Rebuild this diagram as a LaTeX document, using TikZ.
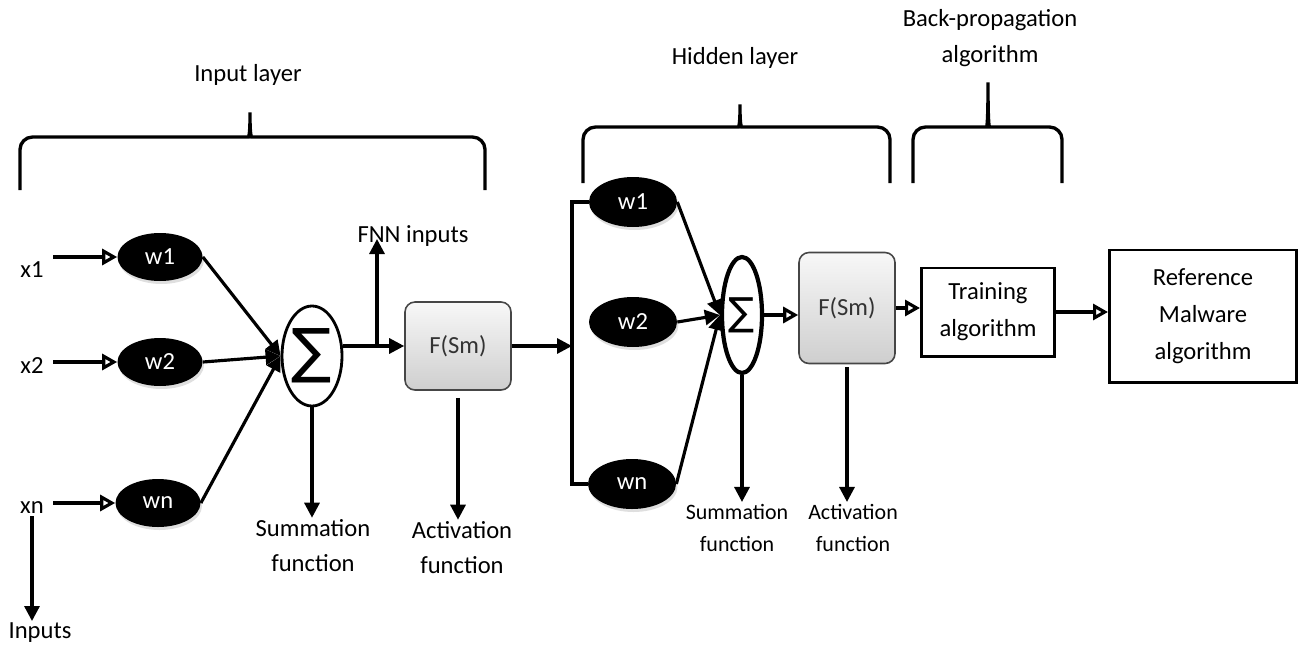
\documentclass[tikz,border=0pt]{standalone}
\usepackage{fontspec}
\setmainfont{Carlito}
\newfontfamily\symfont{DejaVu Sans}
\usetikzlibrary{arrows.meta,positioning,shapes.geometric,shadows}

\begin{document}
\begin{tikzpicture}[x=0.2mm, y=-0.2mm,
    weight/.style={ellipse, fill=black, text=white, minimum width=17mm, minimum height=9.6mm, font=\fontsize{14}{16}\selectfont, drop shadow={opacity=0.25, shadow xshift=0.3mm, shadow yshift=-0.6mm}},
    summer/.style={ellipse, draw, line width=1.6pt, fill=white, inner sep=0pt, minimum width=12mm, minimum height=20mm, font=\symfont\fontsize{34}{34}\selectfont},
    actbox/.style={draw=gray!55!black, line width=0.9pt, rounded corners=2mm, top color=gray!6, bottom color=gray!38, text=black!80, minimum width=21.2mm, minimum height=17.6mm, font=\fontsize{14}{16}\selectfont},
    algbox/.style={draw, line width=1.7pt, align=center, font=\fontsize{14}{21}\selectfont},
    label/.style={align=center, inner sep=1pt, font=\fontsize{14}{20}\selectfont},
    small/.style={align=center, inner sep=1pt, font=\fontsize{12.5}{18.5}\selectfont},
    wire/.style={line width=1.8pt},
    edge/.style={wire, -{Triangle[length=3mm, width=3mm]}},
    openedge/.style={wire, -{Triangle[open, length=3mm, width=3.2mm]}},
    brace/.style={line width=1.9pt, rounded corners=2.5mm}
]
    \useasboundingbox (0,0) rectangle (1299,653);

    \node[label] (x1) at (32,270) {x1};
    \node[label] (x2) at (32,366) {x2};
    \node[label] (xn) at (32,508) {xn};
    \node[label] (inputs) at (40,633) {Inputs};
    \node[weight] (w1) at (160,257) {w1};
    \node[weight] (w2) at (160,362) {w2};
    \node[weight] (wn) at (158,503) {wn};
    \node[summer] (sig1) at (312,356) {∑};
    \node[label] (fnn) at (413,236) {FNN inputs};
    \node[actbox] (fs1) at (458,346) {F(Sm)};
    \node[label] (sum1) at (313,546) {Summation\\function};
    \node[label] (act1) at (462,548) {Activation\\function};
    \coordinate (branch) at (377,346);
    \coordinate (fnntip) at (377,239);
    \coordinate (bar) at (572,346);

    \node[weight, minimum width=17.6mm, minimum height=10mm] (hw1) at (633,202) {w1};
    \node[weight, minimum width=17.6mm, minimum height=10mm] (hw2) at (633,322) {w2};
    \node[weight, minimum width=17.6mm, minimum height=10mm] (hwn) at (632,484) {wn};
    \node[summer, line width=2.4pt, minimum width=8mm, minimum height=23.2mm, font=\symfont\fontsize{22}{22}\selectfont] (sig2) at (742,315) {∑};
    \node[actbox, minimum width=19.2mm, minimum height=22.2mm] (fs2) at (847,308) {F(Sm)};
    \node[small] (sum2) at (737,528) {Summation\\function};
    \node[small] (act2) at (853,528) {Activation\\function};
    \node[algbox, minimum width=26.6mm, minimum height=17.6mm] (train) at (988,312) {Training\\algorithm};
    \node[algbox, minimum width=37.4mm, minimum height=26.4mm] (ref) at (1203,316) {Reference\\Malware\\algorithm};

    \node[label] (inlayer) at (248,75) {Input layer};
    \node[label] (hidlayer) at (735,58) {Hidden layer};
    \node[label] (bp) at (990,38) {Back-propagation\\algorithm};

    \draw[brace] (20,190) -- (20,137) -- (236,137) .. controls (249,137) and (250,131) .. (250,105) .. controls (250,131) and (251,137) .. (264,137) -- (485,137) -- (485,190);
    \draw[brace] (583,183) -- (583,127) -- (726,127) .. controls (739,127) and (740,121) .. (740,97) .. controls (740,121) and (741,127) .. (754,127) -- (890,127) -- (890,183);
    \draw[brace] (913,183) -- (913,127) -- (974,127) .. controls (987,127) and (988,120) .. (988,75) .. controls (988,120) and (989,127) .. (1002,127) -- (1062,127) -- (1062,183);

    \draw[openedge, shorten <=1.5mm] (x1.east |- w1) -- (w1.west);
    \draw[openedge, shorten <=1.5mm] (x2.east |- w2) -- (w2.west);
    \draw[openedge, shorten <=1.5mm] (xn.east |- wn) -- (wn.west);
    \draw[edge] (xn.south) -- (xn.south |- inputs.north);
    \draw[edge] (w1.east) -- (sig1.west);
    \draw[edge] (w2.east) -- (sig1.west);
    \draw[edge] (wn.east) -- (sig1.west);
    \draw[edge] (sig1.east |- fs1.west) -- (fs1.west);
    \draw[edge] (branch) -- (fnntip);
    \draw[edge] (sig1.south) -- (sig1.south |- sum1.north);
    \draw[edge, shorten <=1.4mm] (fs1.south) -- (fs1.south |- act1.north);
    \draw[edge] (fs1.east) -- (bar);
    \draw[wire] (hw1.west) -- (hw1.west -| bar) -- (hwn.west -| bar) -- (hwn.west);

    \draw[edge] (hw1.east) -- (sig2.west);
    \draw[edge] (hw2.east) -- (sig2.west);
    \draw[edge] (hwn.east) -- (sig2.west);
    \draw[openedge] (sig2.east) -- (sig2.east -| fs2.west);
    \draw[edge] (sig2.south) -- (sig2.south |- sum2.north);
    \draw[edge, shorten <=0.6mm] (fs2.south) -- (fs2.south |- act2.north);
    \draw[openedge] (fs2.east) -- (fs2.east -| train.west);
    \draw[openedge] (train.east) -- (train.east -| ref.west);
\end{tikzpicture}
\end{document}
